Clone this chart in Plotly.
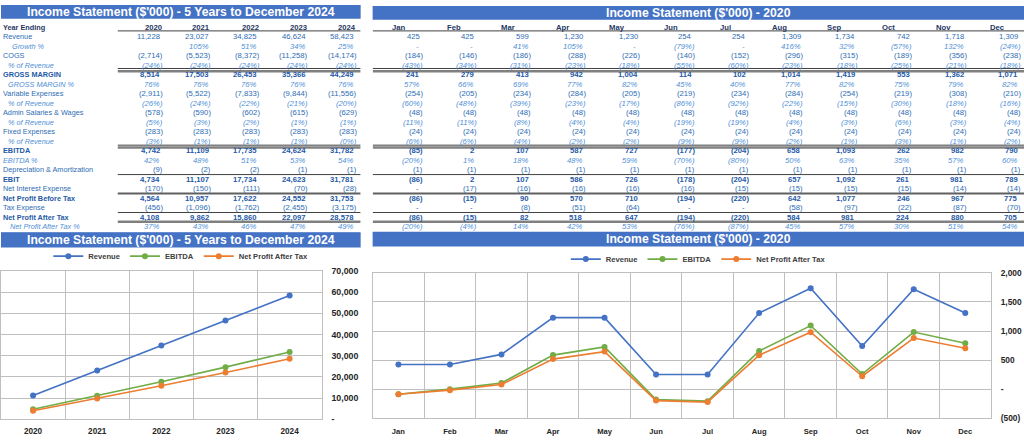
import plotly.graph_objects as go

W, H = 1024, 441

# ---------------- data ----------------
years = ["2020", "2021", "2022", "2023", "2024"]
months = ["Jan", "Feb", "Mar", "Apr", "May", "Jun", "Jul", "Aug", "Sep", "Oct", "Nov", "Dec"]

row_labels = ["Year Ending", "Revenue", "Growth %", "COGS", "% of Revenue", "GROSS MARGIN",
              "GROSS MARGIN %", "Variable Expenses", "% of Revenue", "Admin Salaries & Wages",
              "% of Revenue", "Fixed Expenses", "% of Revenue", "EBITDA", "EBITDA %",
              "Depreciation & Amortization", "EBIT", "Net Interest Expense",
              "Net Profit Before Tax", "Tax Expense", "Net Profit After Tax", "Net Profit After Tax %"]
row_kinds = ["head", "num", "pct", "num", "pct", "bold", "pct", "num", "pct", "num", "pct",
             "num", "pct", "bold", "pct", "num", "bold", "num", "bold", "num", "bold", "pct"]
label_indent = [0, 0, 9, 0, 5, 0, 5, 0, 5, 0, 5, 0, 5, 0, 0, 0, 0, 0, 0, 0, 0, 7]

# annual (5 years)
a_revenue = [11228, 23027, 34825, 46624, 58423]
a_growth = [None, 105, 51, 34, 25]
a_cogs = [-2714, -5523, -8372, -11258, -14174]
a_cogs_pct = [-24, -24, -24, -24, -24]
a_gm = [8514, 17503, 26453, 35366, 44249]
a_gm_pct = [76, 76, 76, 76, 76]
a_var = [-2911, -5522, -7833, -9844, -11556]
a_var_pct = [-26, -24, -22, -21, -20]
a_admin = [-578, -590, -602, -615, -629]
a_admin_pct = [-5, -3, -2, -1, -1]
a_fixed = [-283, -283, -283, -283, -283]
a_fixed_pct = [-3, -1, -1, -1, -0.48]
a_ebitda = [4742, 11109, 17735, 24624, 31782]
a_ebitda_pct = [42, 48, 51, 53, 54]
a_da = [-9, -2, -2, -1, -1]
a_ebit = [4734, 11107, 17734, 24623, 31781]
a_nie = [-170, -150, -111, -70, -28]
a_npbt = [4564, 10957, 17622, 24552, 31753]
a_tax = [-456, -1096, -1762, -2455, -3175]
a_npat = [4108, 9862, 15860, 22097, 28578]
a_npat_pct = [37, 43, 46, 47, 49]

# monthly (2020)
m_revenue = [425, 425, 599, 1230, 1230, 254, 254, 1309, 1734, 742, 1718, 1309]
m_growth = [0, 0, 41, 105, 0, -79, 0, 416, 32, -57, 132, -24]
m_cogs = [-184, -146, -186, -288, -226, -140, -152, -296, -315, -189, -356, -238]
m_cogs_pct = [-43, -34, -31, -23, -18, -55, -60, -23, -18, -25, -21, -18]
m_gm = [241, 279, 413, 942, 1004, 114, 102, 1014, 1419, 553, 1362, 1071]
m_gm_pct = [57, 66, 69, 77, 82, 45, 40, 77, 82, 75, 79, 82]
m_var = [-254, -205, -234, -284, -205, -219, -234, -284, -254, -219, -308, -210]
m_var_pct = [-60, -48, -39, -23, -17, -86, -92, -22, -15, -30, -18, -16]
m_admin = [-48] * 12
m_admin_pct = [-11, -11, -8, -4, -4, -19, -19, -4, -3, -6, -3, -4]
m_fixed = [-24] * 12
m_fixed_pct = [-6, -6, -4, -2, -2, -9, -9, -2, -1, -3, -1, -2]
m_ebitda = [-85, 2, 107, 587, 727, -177, -204, 658, 1093, 262, 982, 790]
m_ebitda_pct = [-20, 1, 18, 48, 59, -70, -80, 50, 63, 35, 57, 60]
m_da = [-1] * 12
m_ebit = [-86, 2, 107, 586, 726, -178, -204, 657, 1092, 261, 981, 789]
m_nie = [0, -17, -16, -16, -16, -16, -15, -15, -15, -15, -14, -14]
m_npbt = [-86, -15, 90, 570, 710, -194, -220, 642, 1077, 246, 967, 775]
m_tax = [0, 0, -8, -51, -64, 0, 0, -58, -97, -22, -87, -70]
m_npat = [-86, -15, 82, 518, 647, -194, -220, 584, 981, 224, 880, 705]
m_npat_pct = [-20, -4, 14, 42, 53, -76, -87, 45, 57, 30, 51, 54]

annual_rows = [None, a_revenue, a_growth, a_cogs, a_cogs_pct, a_gm, a_gm_pct, a_var, a_var_pct,
               a_admin, a_admin_pct, a_fixed, a_fixed_pct, a_ebitda, a_ebitda_pct, a_da, a_ebit,
               a_nie, a_npbt, a_tax, a_npat, a_npat_pct]
monthly_rows = [None, m_revenue, m_growth, m_cogs, m_cogs_pct, m_gm, m_gm_pct, m_var, m_var_pct,
                m_admin, m_admin_pct, m_fixed, m_fixed_pct, m_ebitda, m_ebitda_pct, m_da, m_ebit,
                m_nie, m_npbt, m_tax, m_npat, m_npat_pct]

y1_ticks = [0, 10000, 20000, 30000, 40000, 50000, 60000, 70000]
y1_ticktext = ["-", "10,000", "20,000", "30,000", "40,000", "50,000", "60,000", "70,000"]
y2_ticks = [-500, 0, 500, 1000, 1500, 2000]
y2_ticktext = ["(500)", "-", "500", "1,000", "1,500", "2,000"]

title_left = "Income Statement ($'000) - 5 Years to December 2024"
title_right = "Income Statement ($'000) - 2020"

# ---------------- styling ----------------
BLUE_BAR = "#4472C4"
C_REV, C_EBITDA, C_NPAT = "#4472C4", "#70AD47", "#ED7D31"
GRID = "#BFBFBF"
TFONT = "Liberation Sans"
FS = 7.7
FS_LAB = 7.3

styles = {
    "head": dict(color="#1F3864", b=True, i=False),
    "num": dict(color="#2E6DB4", b=False, i=False),
    "bold": dict(color="#1F5AA6", b=True, i=False),
    "pct": dict(color="#4F8FD6", b=False, i=True),
}


def px(x):
    return x / W


def py(y):
    return 1 - y / H


def fmt(v, kind):
    if v is None:
        return ""
    if v == 0:
        return "-"
    if kind == "pct":
        s = f"{abs(v):.0f}%"
    else:
        s = f"{abs(v):,.0f}"
    return f"({s})" if v < 0 else s


def styled(text, kind):
    st = styles[kind]
    if st["b"]:
        text = f"<b>{text}</b>"
    if st["i"]:
        text = f"<i>{text}</i>"
    return text


fig = go.Figure()

# ---------------- charts ----------------
for name, vals, col in [("Revenue", a_revenue, C_REV), ("EBITDA", a_ebitda, C_EBITDA),
                        ("Net Profit After Tax", a_npat, C_NPAT)]:
    fig.add_trace(go.Scatter(x=years, y=vals, name=name, mode="lines+markers",
                             line=dict(color=col, width=1.6), marker=dict(size=6, color=col),
                             xaxis="x", yaxis="y", legend="legend"))
for name, vals, col in [("Revenue", m_revenue, C_REV), ("EBITDA", m_ebitda, C_EBITDA),
                        ("Net Profit After Tax", m_npat, C_NPAT)]:
    fig.add_trace(go.Scatter(x=months, y=vals, name=name, mode="lines+markers",
                             line=dict(color=col, width=1.6), marker=dict(size=6, color=col),
                             xaxis="x2", yaxis="y2", legend="legend2"))

# dummy traces to create the table coordinate systems
fig.add_trace(go.Scatter(x=[None], y=[None], xaxis="x3", yaxis="y3", showlegend=False, hoverinfo="skip"))
fig.add_trace(go.Scatter(x=[None], y=[None], xaxis="x4", yaxis="y4", showlegend=False, hoverinfo="skip"))

# ---------------- tables ----------------
ann = []
shapes = []

for r, (lab, kind) in enumerate(zip(row_labels, row_kinds)):
    ann.append(dict(xref="x3", yref="y3", x=-3.30, y=r, text=styled(lab, kind), xanchor="left",
                    yanchor="middle", xshift=label_indent[r], showarrow=False,
                    font=dict(family=TFONT, size=FS_LAB, color=styles[kind]["color"])))
    if kind == "head":
        for i, yr in enumerate(years):
            ann.append(dict(xref="x3", yref="y3", x=i, y=r, text=styled(yr, kind), xanchor="right",
                            yanchor="middle", xshift=-1, showarrow=False,
                            font=dict(family=TFONT, size=FS, color=styles[kind]["color"])))
        for i, mo in enumerate(months):
            ann.append(dict(xref="x4", yref="y4", x=i - 0.43, y=r, text=styled(mo, kind), xanchor="center",
                            yanchor="middle", showarrow=False,
                            font=dict(family=TFONT, size=FS, color=styles[kind]["color"])))
        continue
    ftype = "pct" if kind == "pct" else "num"
    for i, v in enumerate(annual_rows[r]):
        t = fmt(v, ftype)
        if t == "":
            continue
        shift = 0 if t.startswith("(") else (-4 if t == "-" else -2.5)
        ann.append(dict(xref="x3", yref="y3", x=i, y=r, text=styled(t, kind), xanchor="right",
                        yanchor="middle", xshift=shift, showarrow=False,
                        font=dict(family=TFONT, size=FS, color=styles[kind]["color"])))
    for i, v in enumerate(monthly_rows[r]):
        t = fmt(v, ftype)
        shift = 0 if t.startswith("(") else (-4 if t == "-" else -2.5)
        ann.append(dict(xref="x4", yref="y4", x=i, y=r, text=styled(t, kind), xanchor="right",
                        yanchor="middle", xshift=shift, showarrow=False,
                        font=dict(family=TFONT, size=FS, color=styles[kind]["color"])))

for a in ann:
    a["borderpad"] = 0
    a["borderwidth"] = 0

# rules (row-unit positions)
rules = [(0.36, 1, "#404040"), (4.32, 1, "#404040"), (4.62, 2.5, "#808080"),
         (12.40, 1, "#404040"), (12.64, 2.5, "#808080"), (15.50, 1, "#404040"),
         (17.50, 2, "#606060"), (19.50, 1, "#404040"), (20.48, 2.5, "#808080")]
L_X0, L_X1 = -0.93, 4.082
R_X0, R_X1 = -0.918, 11.056
for yv, w, c in rules:
    shapes.append(dict(type="line", xref="x3", yref="y3", x0=L_X0, x1=L_X1, y0=yv, y1=yv,
                       line=dict(color=c, width=w)))
    shapes.append(dict(type="line", xref="x4", yref="y4", x0=R_X0, x1=R_X1, y0=yv, y1=yv,
                       line=dict(color=c, width=w)))
shapes.append(dict(type="line", xref="x3", yref="y3", x0=-3.34, x1=L_X1, y0=21.66, y1=21.66,
                   line=dict(color=BLUE_BAR, width=1.5)))
shapes.append(dict(type="line", xref="x4", yref="y4", x0=R_X0, x1=R_X1, y0=21.66, y1=21.66,
                   line=dict(color=BLUE_BAR, width=1.5)))

# title bars
bars = [(0, 360, 0, 14, title_left), (372, 1024, 1, 15, title_right),
        (0, 360, 233, 248, title_left), (372, 1024, 232, 247, title_right)]
for x0, x1, y0, y1, t in bars:
    shapes.append(dict(type="rect", xref="paper", yref="paper", x0=px(x0), x1=px(x1),
                       y0=py(y1), y1=py(y0), fillcolor=BLUE_BAR, line=dict(width=0), layer="below"))
    ann.append(dict(xref="paper", yref="paper", x=px((x0 + x1) / 2), y=py((y0 + y1) / 2),
                    text=f"<b>{t}</b>", showarrow=False, xanchor="center", yanchor="middle",
                    font=dict(family=TFONT, size=12.2, color="white"), borderpad=0))

tick_font = dict(family=TFONT, size=8.8, color="#262626", weight="bold")

fig.update_layout(
    width=W, height=H, margin=dict(l=0, r=0, t=0, b=0),
    paper_bgcolor="white", plot_bgcolor="rgba(0,0,0,0)",
    annotations=ann, shapes=shapes,
    xaxis=dict(domain=[px(0), px(321)], type="category", range=[-0.5, 4.5], tickson="boundaries",
               showgrid=True, gridcolor=GRID, gridwidth=1, showline=True, mirror=True, linecolor=GRID,
               ticks="", tickfont=dict(family=TFONT, size=8.2, color="#262626", weight="bold"),
               ticklabelstandoff=4, fixedrange=True),
    yaxis=dict(domain=[py(424), py(272)], range=[0, 70000], side="right", tickvals=y1_ticks,
               ticktext=y1_ticktext, showgrid=True, gridcolor=GRID, zeroline=False, showline=True,
               mirror=True, linecolor=GRID, ticks="", tickfont=tick_font, ticklabelstandoff=7),
    xaxis2=dict(domain=[px(372), px(991)], type="category", range=[-0.5, 11.5], tickson="boundaries",
                showgrid=True, gridcolor=GRID, showline=True, mirror=True, linecolor=GRID, ticks="",
                tickfont=dict(family=TFONT, size=7.6, color="#262626", weight="bold"),
                ticklabelstandoff=5, anchor="y2"),
    yaxis2=dict(domain=[py(423), py(274)], range=[-500, 2000], side="right", tickvals=y2_ticks,
                ticktext=y2_ticktext, showgrid=True, gridcolor=GRID, zeroline=False, showline=True,
                mirror=True, linecolor=GRID, ticks="",
                tickfont=dict(family=TFONT, size=8.4, color="#262626", weight="bold"),
                ticklabelstandoff=7, anchor="x2"),
    xaxis3=dict(domain=[0, px(360)], range=[-3.34, 4.082], visible=False, anchor="y3"),
    yaxis3=dict(domain=[0, 1], range=[43.048, -2.369], visible=False, anchor="x3"),
    xaxis4=dict(domain=[px(372), 1], range=[R_X0, R_X1], visible=False, anchor="y4"),
    yaxis4=dict(domain=[0, 1], range=[43.048, -2.369], visible=False, anchor="x4"),
    legend=dict(orientation="h", x=px(180), xanchor="center", y=py(257), yanchor="middle",
                font=dict(family=TFONT, size=7.6, color="#404040", weight="bold"),
                bgcolor="rgba(0,0,0,0)", itemwidth=30, tracegroupgap=0),
    legend2=dict(orientation="h", x=px(698), xanchor="center", y=py(260), yanchor="middle",
                 font=dict(family=TFONT, size=7.6, color="#404040", weight="bold"),
                 bgcolor="rgba(0,0,0,0)", itemwidth=30, tracegroupgap=0),
    showlegend=True,
)

fig.write_html("out.html", config={"displayModeBar": False},
               post_script="document.body.style.margin='0px';document.body.style.padding='0px';"
                           "document.documentElement.style.overflow='hidden';")
